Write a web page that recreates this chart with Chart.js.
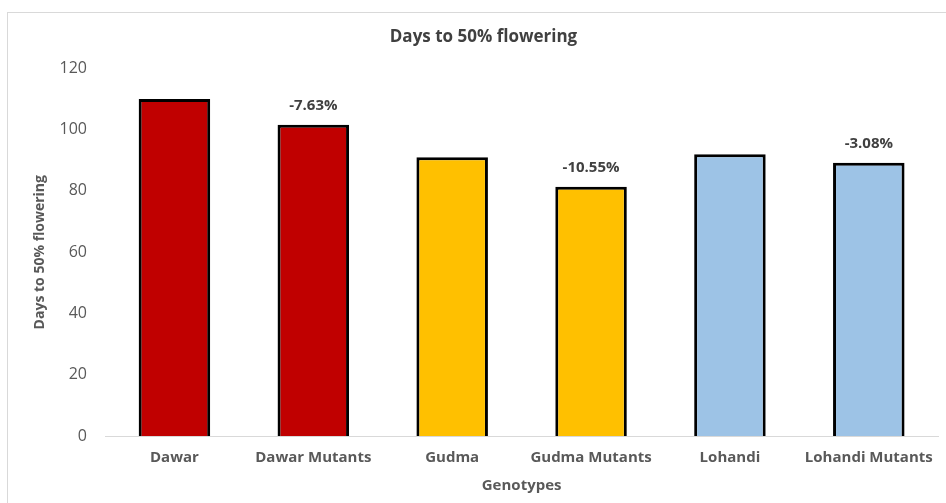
<!DOCTYPE html>
<html>
<head>
<meta charset="utf-8">
<script src="https://cdn.jsdelivr.net/npm/chart.js@4.4.1/dist/chart.umd.min.js"></script>
<style>
  html, body { margin: 0; padding: 0; background: #ffffff; }
  #wrap { width: 946px; height: 503px; position: relative; }
</style>
</head>
<body>
<div id="wrap"><canvas id="c" width="946" height="503"></canvas></div>
<script>
const categories = ["Dawar", "Dawar Mutants", "Gudma", "Gudma Mutants", "Lohandi", "Lohandi Mutants"];
const daysToFlowering = [110, 101.6, 91, 81.4, 92, 89.2];
const changeLabels = ["", "-7.63%", "", "-10.55%", "", "-3.08%"];
const barColors = ["#C00000", "#C00000", "#FFC000", "#FFC000", "#9DC3E6", "#9DC3E6"];
const yTicks = [0, 20, 40, 60, 80, 100, 120];

const FONT = "'Open Sans', 'Liberation Sans', sans-serif";
const GREY = "#595959";

const frame = {
  id: 'frame',
  beforeDraw(chart) {
    const ctx = chart.ctx;
    ctx.save();
    ctx.fillStyle = '#ffffff';
    ctx.fillRect(0, 0, chart.width, chart.height);
    ctx.strokeStyle = '#d9d9d9';
    ctx.lineWidth = 1;
    ctx.strokeRect(7.5, 12.5, chart.width, chart.height);
    ctx.restore();
  }
};

const barLabels = {
  id: 'barLabels',
  afterDatasetsDraw(chart) {
    const ctx = chart.ctx;
    const meta = chart.getDatasetMeta(0);
    ctx.save();
    ctx.font = "bold 15px " + FONT;
    ctx.fillStyle = "#404040";
    ctx.textAlign = 'center';
    ctx.textBaseline = 'middle';
    meta.data.forEach((bar, i) => {
      const t = changeLabels[i];
      if (t) ctx.fillText(t, bar.x, bar.y - 19);
    });
    ctx.restore();
  }
};

new Chart(document.getElementById('c'), {
  type: 'bar',
  data: {
    labels: categories,
    datasets: [{
      data: daysToFlowering,
      backgroundColor: barColors,
      borderColor: '#000000',
      borderWidth: 3,
      borderSkipped: 'start',
      categoryPercentage: 1,
      barPercentage: 0.515
    }]
  },
  options: {
    responsive: false,
    animation: false,
    devicePixelRatio: 1,
    layout: { padding: { left: 24, right: 3, top: 0, bottom: 0 } },
    plugins: {
      legend: { display: false },
      tooltip: { enabled: false },
      title: {
        display: true,
        text: 'Days to 50% flowering',
        color: '#404040',
        font: { family: FONT, size: 17, weight: 'bold', lineHeight: 1.2 },
        padding: { top: 27, bottom: 21 }
      }
    },
    scales: {
      x: {
        grid: { display: false, drawTicks: false },
        border: { display: true, color: '#d9d9d9', width: 1 },
        ticks: { color: GREY, font: { family: FONT, size: 15, weight: 'bold' }, padding: 13, maxRotation: 0 },
        title: {
          display: true, text: 'Genotypes', color: GREY,
          font: { family: FONT, size: 15, weight: 'bold', lineHeight: 1.2 },
          padding: { top: 0, bottom: 8 }
        },
        afterFit(scale) { scale.height = 67; }
      },
      y: {
        min: 0, max: 120,
        afterBuildTicks(scale) { scale.ticks = yTicks.map(v => ({ value: v })); },
        grid: { display: false, drawTicks: false },
        border: { display: false },
        ticks: { color: GREY, font: { family: FONT, size: 16 }, padding: 18 },
        title: {
          display: true, text: 'Days to 50% flowering', color: GREY,
          font: { family: FONT, size: 14, weight: 'bold', lineHeight: 1.2 },
          padding: { top: 8, bottom: 0 }
        },
        afterFit(scale) { scale.width = 81; }
      }
    }
  },
  plugins: [frame, barLabels]
});
</script>
</body>
</html>
